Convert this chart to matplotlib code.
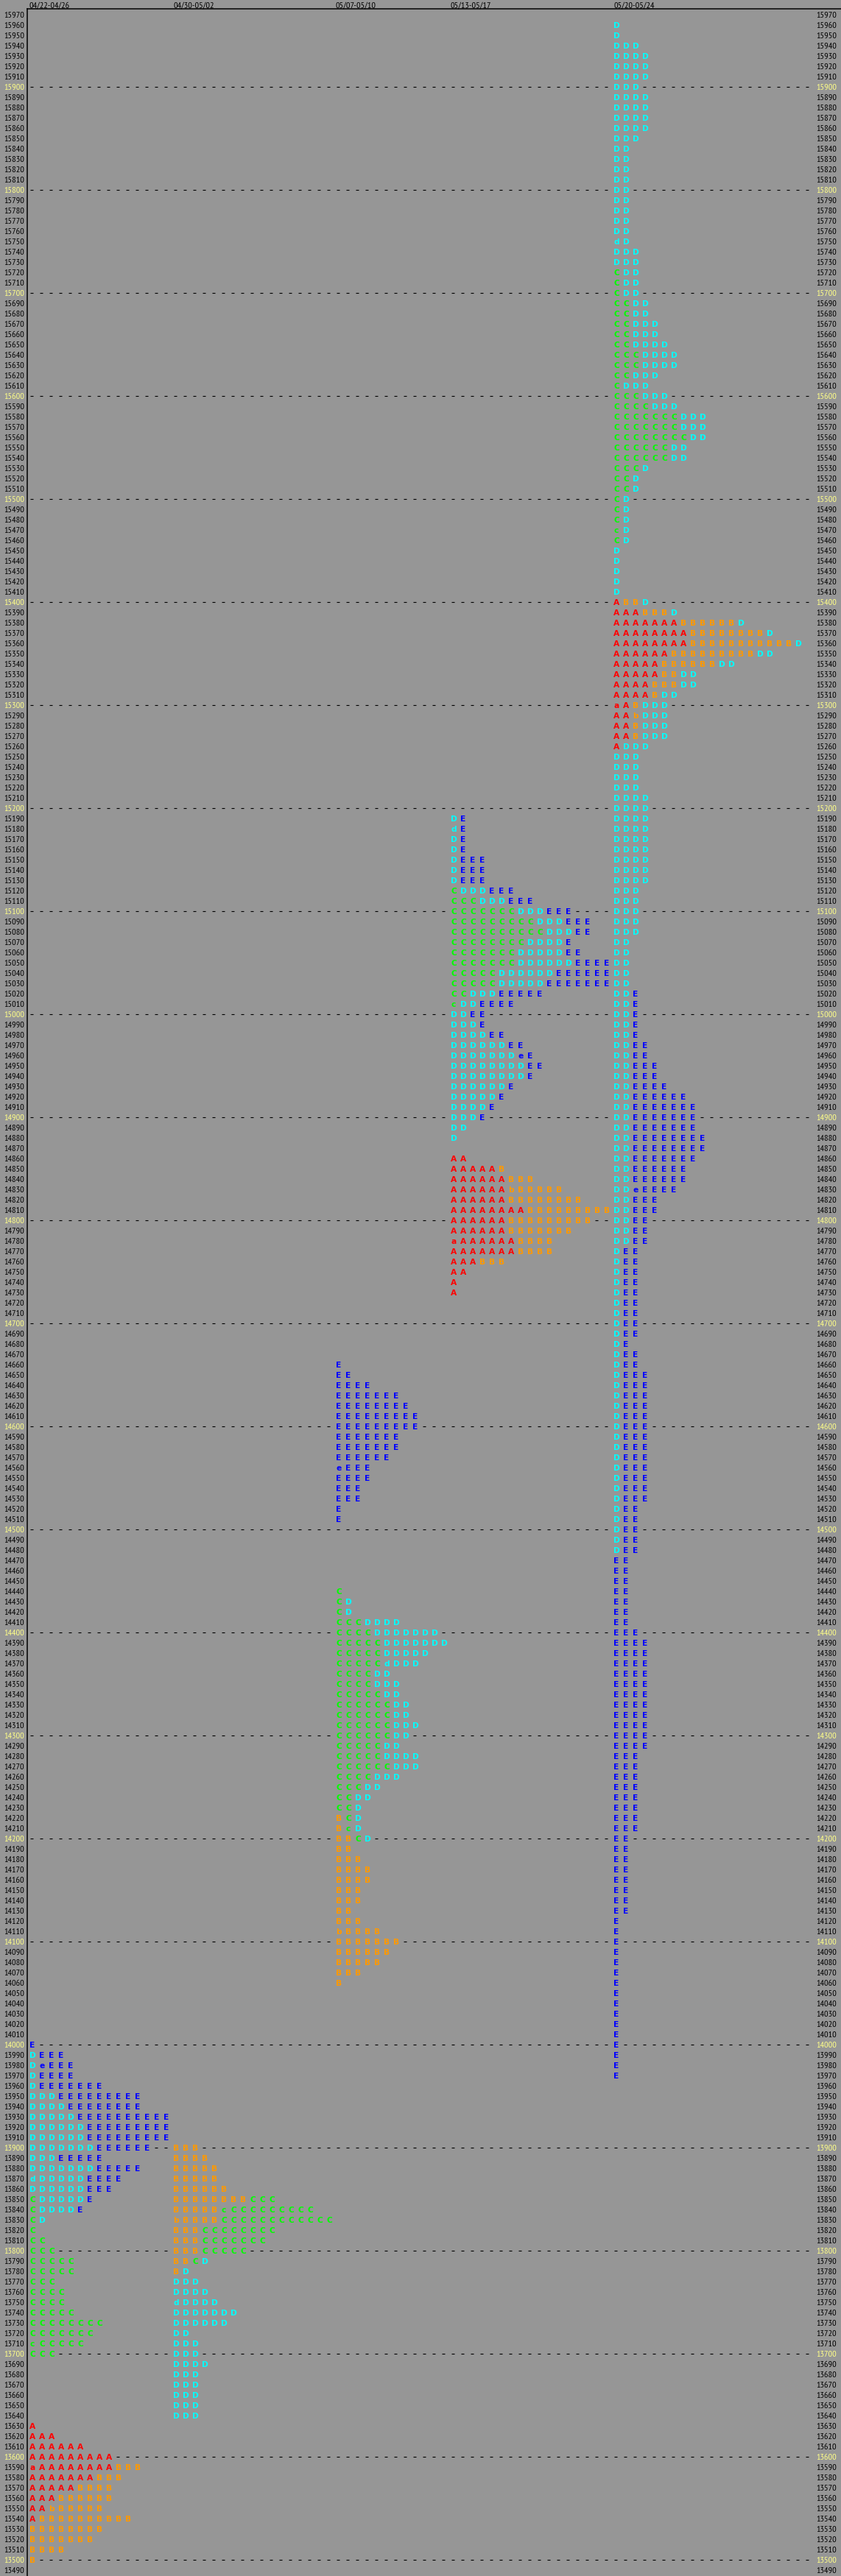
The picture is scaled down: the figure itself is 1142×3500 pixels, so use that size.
import matplotlib
matplotlib.use("Agg")
import matplotlib.pyplot as plt
import numpy as np
from matplotlib import font_manager as fm
from matplotlib.transforms import offset_copy, blended_transform_factory

# ---------------- data ----------------
period_labels = ["04/22-04/26", "04/30-05/02", "05/07-05/10", "05/13-05/17", "05/20-05/24"]
start_cols = [0, 15, 32, 44, 61]          # character-grid column of each profile
top_prices = [14000, 13900, 14660, 15190, 15960]

p1_rows = [
    "E", "DEEE", "DeEEE", "DEEEE", "DEEEEEEE",
    "DDDEEEEEEEEE", "DDDDEEEEEEEE", "DDDDDEEEEEEEEEE", "DDDDDDEEEEEEEEE", "DDDDDDEEEEEEEEE",
    "DDDDDDDEEEEEE", "DDDEEEEE", "DDDDDDDEEEEE", "dDDDDDEEEE", "DDDDDDEEE",
    "CDDDDDE", "CDDDDE", "CD", "C", "CC",
    "CCC", "CCCCC", "CCCCC", "CCC", "CCCC",
    "CCCC", "CCCCC", "CCCCCCCC", "CCCCCCC", "cCCCCC",
    "CCC", "", "", "", "",
    "", "", "A", "AAA", "AAAAAA",
    "AAAAAAAAA", "aAAAAAAAABBB", "AAAAAAABBB", "AAAAABBBB", "AAABBBBBB",
    "AAbBBBBB", "ABBBBBBBBBB", "BBBBBBBB", "BBBBBBB", "BBBB",
    "B",
]

p2_rows = [
    "BBB", "BBBB", "BBBBB", "BBBBB", "BBBBBB",
    "BBBBBBBBCCC", "BBBBBcCCCCCCCCC", "bBBBBCCCCCCCCCCCC", "BBBCCCCCCCC", "BBBCCCCCCC",
    "BBBCCCCC", "BBCD", "BD", "DDD", "DDDD",
    "dDDDD", "DDDDDDD", "DDDDDD", "DD", "DDD",
    "DDD", "DDDD", "DDD", "DDD", "DDD",
    "DDD", "DDD",
]

p3_rows = [
    "E", "EE", "EEEE", "EEEEEEE", "EEEEEEEE",
    "EEEEEEEEE", "EEEEEEEEE", "EEEEEEE", "EEEEEEE", "EEEEEE",
    "eEEE", "EEEE", "EEE", "EEE", "E",
    "E", "", "", "", "",
    "", "", "C", "CD", "CD",
    "CCCDDDD", "CCCCDDDDDDD", "CCCCCDDDDDDD", "CCCCCDDDDD", "CCCCCdDDD",
    "CCCCDD", "CCCCDDD", "CCCCCDD", "CCCCCCDD", "CCCCCCDD",
    "CCCCCCDDD", "CCCCCCDD", "CCCCCDD", "CCCCCDDDD", "CCCCCCDDD",
    "CCCCDDD", "CCCDD", "CCDD", "CCD", "BCD",
    "BcD", "BBCD", "BB", "BBB", "BBBB",
    "BBBB", "BBB", "BBB", "BB", "BBB",
    "bBBBB", "BBBBBBB", "BBBBBB", "BBBBB", "BBB",
    "B",
]

p4_rows = [
    "DE", "dE", "DE", "DE", "DEEE",
    "DEEE", "DEEE", "CDDDEEE", "CCCDDDEEE", "CCCCCCCDDDEEE",
    "CCCCCCCCCDDDEEE", "CCCCCCCCCCDDDEE", "CCCCCCCCDDDDE", "CCCCCCCDDDDDEE", "CCCCCCCDDDDDDEEEE",
    "CCCCCDDDDDDEEEEEE", "CCCCCDDDDDEEEEEEE", "CCDDDEEEEE", "cDDEEEE", "DDEE",
    "DDDE", "DDDDEE", "DDDDDDEE", "DDDDDDDeE", "DDDDDDDDEE",
    "DDDDDDDDE", "DDDDDDE", "DDDDDE", "DDDDE", "DDDE",
    "DD", "D", "", "AA", "AAAAAB",
    "AAAAAABBB", "AAAAAAbBBBBB", "AAAAAABBBBBBBB", "AAAAAAAABBBBBBBBB", "AAAAAABBBBBBBBB",
    "AAAAAABBBBBBB", "aAAAAAABBBB", "AAAAAAABBBB", "AAABBB", "AA",
    "A", "A",
]

p5_rows = (
    ["D", "D", "DDD", "DDDD", "DDDD", "DDDD", "DDD", "DDDD", "DDDD", "DDDD", "DDDD", "DDD"]
    + ["DD"] * 9
    + ["dD", "DDD", "DDD"]
    + ["CDD", "CDD", "CDD", "CCDD", "CCDD", "CCDDD", "CCDDD", "CCDDDD", "CCCDDDD", "CCCDDDD",
       "CCDDD", "CDDD", "CCCDDD", "CCCCDDD", "CCCCCCCDDD", "CCCCCCCDDD", "CCCCCCCCDD", "CCCCCCDD",
       "CCCCCCDD", "CCCD", "CCD", "CCD", "CD", "CD", "CD", "cD", "CD"]
    + ["D"] * 5
    + ["ABBD", "AAABBBD", "AAAAAAABBBBBBD", "AAAAAAAABBBBBBBBD", "AAAAAAAABBBBBBBBBBBD",
       "AAAAAABBBBBBBBBDD", "AAAAABBBBBBDD", "AAAAABBDD", "AAAABBBDD", "AAAABDD",
       "aABDDD", "AAbDDD", "AABDDD", "AABDDD", "ADDD"]
    + ["DDD"] * 4
    + ["DDDD"] * 9
    + ["DDD"] * 5
    + ["DD"] * 5
    + ["DDE"] * 5
    + ["DDEE", "DDEE", "DDEEE", "DDEEE", "DDEEEE", "DDEEEEEE", "DDEEEEEEE", "DDEEEEEEE",
       "DDEEEEEEE", "DDEEEEEEEE", "DDEEEEEEEE", "DDEEEEEEE", "DDEEEEEE", "DDEEEEEE",
       "DDeEEEE", "DDEEE", "DDEEE", "DDEE", "DDEE", "DDEE"]
    + ["DEE"] * 9
    + ["DE", "DEE", "DEE"]
    + ["DEEE"] * 13
    + ["DEE"] * 5
    + ["EE"] * 7
    + ["EEE"]
    + ["EEEE"] * 11
    + ["EEE"] * 8
    + ["EE"] * 8
    + ["E"] * 16
)

profiles = [p1_rows, p2_rows, p3_rows, p4_rows, p5_rows]
price_ticks = np.arange(13490, 15980, 10)
price_step = 10

letter_colors = {"A": "#FF0000", "B": "#FF9900", "C": "#00FF00", "D": "#00FFFF", "E": "#0000FF"}

# ---------------- layout ----------------
W, H, DPI = 1142, 3500, 100
BG = "#969696"
YELLOW = "#FFFF88"
ROW_PX, COL_PX = 14.0, 13.0
first_row_px = 19.5      # centre of top price row
top_line_px = 12.3
left_line_px = 37.0
col0_px = 44.0
n_cols = 82              # character columns in the grid

names = {f.name for f in fm.fontManager.ttflist}
label_font, label_size = "DejaVu Sans", 7.0
for cand, size in [("Liberation Sans Narrow", 8.6), ("PT Sans Narrow", 8.8),
                   ("Archivo Narrow", 8.6), ("Roboto Condensed", 8.2),
                   ("Fira Sans Condensed", 8.0), ("IBM Plex Sans Condensed", 8.2),
                   ("Barlow Semi Condensed", 8.4), ("Encode Sans Condensed", 8.2)]:
    if cand in names:
        label_font, label_size = cand, size
        break

fig = plt.figure(figsize=(W / DPI, H / DPI), dpi=DPI, facecolor=BG)
ax = fig.add_axes([left_line_px / W, 0, (W - left_line_px) / W, (H - top_line_px) / H])
ax.set_facecolor(BG)

p_top = price_ticks.max()
ylim_top = p_top + (first_row_px - top_line_px) / ROW_PX * price_step
ylim_bot = p_top - (H - first_row_px) / ROW_PX * price_step
ax.set_ylim(ylim_bot, ylim_top)
ax.set_xlim(-(col0_px - left_line_px) / COL_PX, (W - col0_px) / COL_PX)
ax.set_xticks([])

for s in ["right", "bottom"]:
    ax.spines[s].set_visible(False)
for s in ["left", "top"]:
    ax.spines[s].set_linewidth(1.1)
    ax.spines[s].set_color("black")

ax.set_yticks(price_ticks)
ax.set_yticklabels([str(p) for p in price_ticks], family=label_font, fontsize=label_size)
ax.tick_params(axis="y", length=0, pad=2.9)
for lbl, p in zip(ax.get_yticklabels(), price_ticks):
    lbl.set_color(YELLOW if p % 100 == 0 else "black")

ax2 = ax.twinx()
ax2.set_ylim(ax.get_ylim())
ax2.set_yticks(price_ticks)
ax2.set_yticklabels([str(p) for p in price_ticks], family=label_font, fontsize=label_size)
ax2.tick_params(axis="y", length=0, pad=-(W - 1108) * 0.72)
for s in ax2.spines.values():
    s.set_visible(False)
for lbl, p in zip(ax2.get_yticklabels(), price_ticks):
    lbl.set_color(YELLOW if p % 100 == 0 else "black")

# headers
hdr_tf = blended_transform_factory(ax.transData, ax.transAxes)
for name, sc in zip(period_labels, start_cols):
    ax.text(sc - 4 / COL_PX, 1.0, name, transform=hdr_tf, ha="left", va="bottom",
            family=label_font, fontsize=label_size, color="black", clip_on=False)

# letters
letter_tf = offset_copy(ax.transData, fig=fig, x=0, y=-4, units="dots")
occupied = set()
for rows, top, sc in zip(profiles, top_prices, start_cols):
    for i, row in enumerate(rows):
        price = top - price_step * i
        for j, ch in enumerate(row):
            col = sc + j
            occupied.add((col, price))
            ax.text(col, price, ch, transform=letter_tf, ha="center", va="baseline",
                    family="DejaVu Sans", weight="bold", fontsize=7.7,
                    color=letter_colors[ch.upper()])

# dashed hundred rows (dash characters in free cells)
for p in price_ticks:
    if p % 100 == 0:
        cols = [c for c in range(n_cols) if (c, p) not in occupied]
        ax.plot(np.array(cols) - 0.1, [p] * len(cols), ls="none", marker="_",
                ms=3.2, mew=0.8, color="black")

fig.savefig("out.png", dpi=DPI, facecolor=BG)
